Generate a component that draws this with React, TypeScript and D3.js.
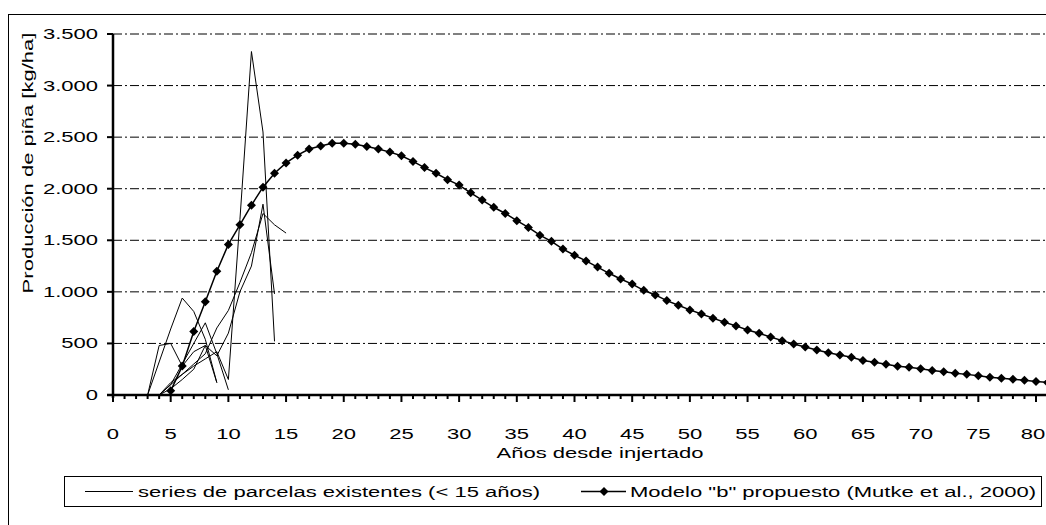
import React from "react";
import * as d3 from "d3";

// modelo "b" (Mutke et al., 2000), años 5..81
const modelYears = d3.range(5, 82);
const modelValues = [
  40, 280, 615, 905, 1200, 1460, 1650, 1840, 2015, 2150,
  2250, 2325, 2385, 2415, 2440, 2440, 2430, 2410, 2385, 2355,
  2320, 2265, 2205, 2150, 2088, 2035, 1960, 1890, 1820, 1760,
  1690, 1625, 1550, 1490, 1415, 1355, 1300, 1240, 1180, 1125,
  1075, 1015, 970, 915, 870, 825, 785, 745, 705, 670,
  630, 598, 562, 527, 495, 465, 437, 410, 388, 365,
  335, 318, 298, 278, 268, 255, 238, 225, 212, 200,
  187, 172, 162, 152, 143, 130, 122,
];

// series de parcelas existentes (< 15 años): [año inicial, valores]
const plotSeries: [number, number[]][] = [
  [3, [0, 320, 640, 940, 810, 540, 120]],
  [3, [0, 480, 500, 280, 420, 480, 120]],
  [4, [0, 100, 200, 280, 350, 420, 150, 1700, 3330, 2550, 520]],
  [4, [0, 120, 200, 300, 400, 650, 820, 1090, 1380, 1760, 1650, 1570]],
  [4, [0, 60, 150, 250, 480, 380, 600, 1000, 1250, 1850, 980]],
  [4, [0, 100, 300, 500, 700, 400, 50]],
];

const yTicks = [0, 500, 1000, 1500, 2000, 2500, 3000, 3500];
const xTicks = d3.range(0, 81, 5);

const W = 1046;
const H = 525;
const FONT = "'Liberation Sans', Arial, sans-serif";
const SX = 1.52;

const fmt = d3
  .formatLocale({ decimal: ",", thousands: ".", grouping: [3], currency: ["", ""] })
  .format(",");

const Txt = ({ x, y, anchor = "start", rotate = 0, children }: any) => (
  <text
    transform={`translate(${x},${y}) rotate(${rotate}) scale(${SX},1)`}
    textAnchor={anchor}
    fontFamily={FONT}
    fontSize={14.5}
    fill="#000"
  >
    {children}
  </text>
);

export default function App() {
  const x = d3.scaleLinear().domain([0, 80]).range([113, 1036]);
  const y = d3.scaleLinear().domain([0, 3500]).range([395, 34]);

  const line = d3
    .line<[number, number]>()
    .x((d) => x(d[0]))
    .y((d) => y(d[1]));

  const modelPts: [number, number][] = modelYears.map((t, i) => [t, modelValues[i]]);
  const diamond = "M0,-4.5L4.5,0L0,4.5L-4.5,0Z";

  return (
    <svg
      width={W}
      height={H}
      style={{ position: "absolute", left: 0, top: 0, background: "#fff" }}
    >
      <rect x={8.5} y={14.5} width={1200} height={700} fill="#fff" stroke="#000" />

      {/* grid */}
      {yTicks.slice(1).map((v) => (
        <line
          key={v}
          x1={x(0)}
          x2={W}
          y1={y(v)}
          y2={y(v)}
          stroke="#000"
          strokeDasharray="9,3,2,3"
        />
      ))}

      {/* series */}
      {plotSeries.map(([start, vals], i) => (
        <path
          key={i}
          d={line(vals.map((v, j) => [start + j, v]))!}
          fill="none"
          stroke="#000"
          strokeWidth={1}
        />
      ))}

      <path d={line(modelPts)!} fill="none" stroke="#000" strokeWidth={1.5} />
      {modelPts.map((d, i) => (
        <path key={i} d={diamond} transform={`translate(${x(d[0])},${y(d[1])})`} fill="#000" />
      ))}

      {/* axes */}
      <line x1={x(0)} x2={x(0)} y1={y(3500)} y2={y(0) + 3} stroke="#000" strokeWidth={2.5} />
      <line x1={x(0) - 6} x2={W} y1={y(0)} y2={y(0)} stroke="#000" strokeWidth={2.5} />
      {yTicks.map((v) => (
        <g key={v}>
          <line x1={x(0) - 6} x2={x(0)} y1={y(v)} y2={y(v)} stroke="#000" strokeWidth={2} />
          <Txt x={x(0) - 15} y={y(v) + 5} anchor="end">
            {fmt(v)}
          </Txt>
        </g>
      ))}
      {d3.range(0, 82).map((t) => (
        <line
          key={t}
          x1={x(t)}
          x2={x(t)}
          y1={y(0)}
          y2={y(0) + (t % 5 === 0 ? 7 : 4)}
          stroke="#000"
          strokeWidth={2}
        />
      ))}
      {xTicks.map((t) => (
        <Txt key={t} x={x(t) - (t === 80 ? 3 : 0)} y={y(0) + 44} anchor="middle">
          {t}
        </Txt>
      ))}

      <Txt x={600} y={y(0) + 63} anchor="middle">
        Años desde injertado
      </Txt>
      <Txt x={33} y={163} anchor="middle" rotate={-90}>
        Producción de piña [kg/ha]
      </Txt>

      {/* legend */}
      <rect x={64.5} y={476.5} width={977} height={30} fill="#fff" stroke="#000" />
      <line x1={85} x2={133} y1={491.5} y2={491.5} stroke="#000" />
      <Txt x={138} y={497}>
        series de parcelas existentes (&lt; 15 años)
      </Txt>
      <line x1={581} x2={626} y1={491.5} y2={491.5} stroke="#000" strokeWidth={1.5} />
      <path d={diamond} transform="translate(604,491.5)" fill="#000" />
      <Txt x={630} y={497}>
        Modelo "b" propuesto (Mutke et al., 2000)
      </Txt>
    </svg>
  );
}
